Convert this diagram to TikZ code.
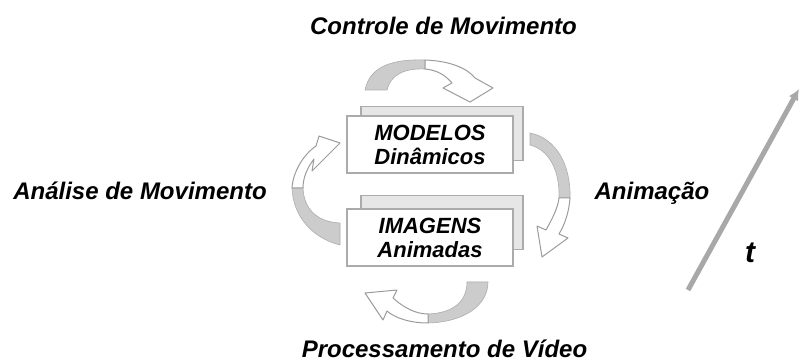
\documentclass[tikz,border=0pt]{standalone}
\usepackage{fontspec}
\setmainfont{Liberation Sans}
\usetikzlibrary{arrows.meta,positioning}
\pgfdeclarelayer{bg}
\pgfsetlayers{bg,main}
\definecolor{boxline}{HTML}{ABABAB}
\definecolor{boxback}{HTML}{E6E6E6}
\definecolor{bandgray}{HTML}{CCCCCC}
\definecolor{bandline}{HTML}{9C9C9C}
\definecolor{timeline}{HTML}{A8A8A8}
\tikzset{
  caption/.style={font=\fontsize{24}{28}\selectfont\bfseries\itshape, inner sep=0pt, anchor=base},
  frontbox/.style={draw=boxline, fill=white, line width=1.5pt, minimum width=166pt, minimum height=57pt,
    align=center, inner sep=0pt, font=\fontsize{22}{24}\selectfont\bfseries\itshape},
  backbox/.style={draw=boxline, fill=boxback, line width=1.5pt, minimum width=162pt, minimum height=54pt},
  bandfill/.style={fill=bandgray, draw=bandgray!85!black, line width=0.6pt, line join=round},
  bandhead/.style={fill=white, draw=bandline, line width=1pt, line join=round}
}

\begin{document}
\begin{tikzpicture}[x=1pt,y=1pt]
  \useasboundingbox (0,0) rectangle (801,-363);

  \node[frontbox] (modelos) at (430,-144.5) {MODELOS\\Dinâmicos};
  \node[frontbox] (imagens) at (430,-237.5) {IMAGENS\\Animadas};
  \begin{pgfonlayer}{bg}
    \node[backbox] (modelosbg) at ([xshift=12pt,yshift=11pt]modelos.center) {};
    \node[backbox] (imagensbg) at ([xshift=12pt,yshift=15pt]imagens.center) {};
  \end{pgfonlayer}

  \node[caption] (controle) at (443.5,-35) {Controle de Movimento};
  \node[caption] (analise) at (140,-200) {Análise de Movimento};
  \node[caption] (animacao) at (652,-200) {Animação};
  \node[caption] (processamento) at (444.5,-358) {Processamento de Vídeo};
  \node[caption, font=\fontsize{30}{30}\selectfont\bfseries\itshape] (tempo) at (750,-263) {t};

  % top
  \filldraw[bandfill] (365,-90) .. controls (370,-65) and (395,-59) .. (425,-60) -- (425,-69)
    .. controls (403,-68) and (390,-76) .. (387,-90) -- cycle;
  \filldraw[bandhead] (425,-60) .. controls (450,-61) and (467,-68) .. (475,-78) -- (493,-88)
    -- (470,-102) -- (443,-88) -- (452,-83) .. controls (445,-75) and (437,-70) .. (425,-69) -- cycle;
  % right
  \filldraw[bandfill] (530,-133) .. controls (556,-138) and (571,-165) .. (570,-198) -- (559,-198)
    .. controls (560,-172) and (550,-150) .. (530,-145) -- cycle;
  \filldraw[bandhead] (570,-198) .. controls (569,-212) and (565,-224) .. (559,-234) -- (568,-238)
    -- (542,-257) -- (537,-226) -- (546,-230) .. controls (552,-219) and (558,-208) .. (559,-198) -- cycle;
  % bottom
  \filldraw[bandfill] (488,-282) .. controls (488,-305) and (465,-322) .. (428,-323) -- (428,-314)
    .. controls (455,-313) and (467,-300) .. (467,-282) -- cycle;
  \filldraw[bandhead] (428,-323) .. controls (410,-323) and (395,-318) .. (387,-311) -- (383,-320)
    -- (365,-293) -- (397,-290) -- (393,-298) .. controls (403,-307) and (415,-314) .. (428,-314) -- cycle;
  % left
  \filldraw[bandfill] (340,-245) .. controls (312,-238) and (293,-216) .. (292,-188) -- (303,-188)
    .. controls (304,-210) and (318,-222) .. (340,-223) -- cycle;
  \filldraw[bandhead] (292,-188) .. controls (293,-172) and (303,-155) .. (316,-146) -- (319,-136)
    -- (340,-143) -- (312,-171) -- (314,-159) .. controls (307,-168) and (303,-178) .. (303,-188) -- cycle;

  \coordinate (t0) at (688,-290);
  \coordinate (t1) at (799,-89);
  \draw[timeline, line width=5pt, -{Latex[length=11pt,width=11pt]}] (t0) -- (t1);
\end{tikzpicture}
\end{document}
